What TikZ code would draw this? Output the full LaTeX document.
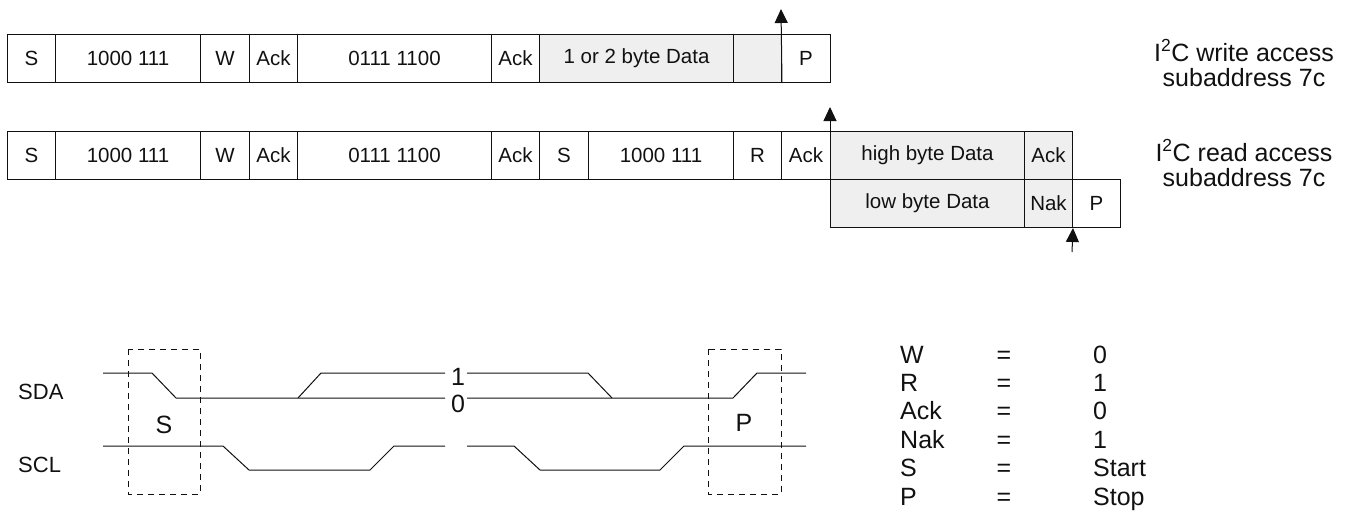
\documentclass[tikz,border=0pt]{standalone}
\usepackage{fontspec}
\setmainfont{Liberation Sans}
\usetikzlibrary{arrows.meta}
\definecolor{cellgray}{HTML}{EFEFEF}
\definecolor{ink}{HTML}{111111}
\newcommand\boxfont{\fontsize{20.5}{23}\selectfont}
\newcommand\bigfont{\fontsize{25}{25}\selectfont}
\newcommand\midfont{\fontsize{22}{24}\selectfont}
\begin{document}
\begin{tikzpicture}[x=1pt,y=-1pt,
  cell/.style={draw=ink, line width=1pt, minimum height=48pt, inner sep=0pt, anchor=north west, font=\boxfont, text=ink},
  gcell/.style={cell, fill=cellgray},
  arr/.style={draw=ink, line width=1pt, -{Triangle[length=14pt,width=13pt]}},
  sig/.style={draw=ink, line width=1pt},
  dbox/.style={draw=ink, line width=1pt, dash pattern=on 6pt off 5pt},
  lbl/.style={inner sep=0pt, text=ink}]
\useasboundingbox (0,0) rectangle (1356,515);

% Row 1: write access
\node[cell, minimum width=48pt]  (w1) at (7,34)   {S};
\node[cell, minimum width=145pt] (w2) at (55,34)  {1000 111};
\node[cell, minimum width=49pt]  (w3) at (200,34) {W};
\node[cell, minimum width=48pt]  (w4) at (249,34) {Ack};
\node[cell, minimum width=194pt] (w5) at (297,34) {0111 1100};
\node[cell, minimum width=48pt]  (w6) at (491,34) {Ack};
\node[gcell, minimum width=194pt] (w7) at (539,34) {1 or 2 byte Data};
\node[gcell, minimum width=48pt] (w8) at (733,34) {};
\node[cell, minimum width=49pt]  (w9) at (781,34) {P};
\coordinate (wtip) at (781,9);
\draw[arr] (w8.south east) -- (wtip);

% Row 2: read access
\node[cell, minimum width=48pt]  (r1) at (7,131)   {S};
\node[cell, minimum width=145pt] (r2) at (55,131)  {1000 111};
\node[cell, minimum width=49pt]  (r3) at (200,131) {W};
\node[cell, minimum width=48pt]  (r4) at (249,131) {Ack};
\node[cell, minimum width=194pt] (r5) at (297,131) {0111 1100};
\node[cell, minimum width=48pt]  (r6) at (491,131) {Ack};
\node[cell, minimum width=49pt]  (r7) at (539,131) {S};
\node[cell, minimum width=145pt] (r8) at (588,131) {1000 111};
\node[cell, minimum width=48pt]  (r9) at (733,131) {R};
\node[cell, minimum width=49pt]  (r10) at (781,131) {Ack};
\node[gcell, minimum width=194pt] (r11) at (830,131) {high byte Data};
\node[gcell, minimum width=48pt] (r12) at (1024,131) {Ack};
\node[gcell, minimum width=194pt] (l1) at (830,179) {low byte Data};
\node[gcell, minimum width=48pt] (l2) at (1024,179) {Nak};
\node[cell, minimum width=48pt]  (l3) at (1072,179) {P};
\coordinate (rtip) at (830,107);
\draw[arr] (l1.south west) -- (rtip);
\coordinate (ntail) at (1072,252);
\draw[arr] (ntail) -- (l2.south east);

% Right labels
\node[lbl, font=\bigfont, align=center] (wlab) at (1244,63) {I\textsuperscript{2}C write access\\subaddress 7c};
\node[lbl, font=\bigfont, align=center] (rlab) at (1244,163) {I\textsuperscript{2}C read access\\subaddress 7c};

% Timing diagram
\node[lbl, font=\midfont, anchor=west] (sda) at (18,392) {SDA};
\node[lbl, font=\midfont, anchor=west] (scl) at (18,465) {SCL};
\draw[sig] (103,373) -- (152,373) -- (176,398) -- (445,398);
\draw[sig] (467,398) -- (733,398) -- (757,373) -- (806,373);
\draw[sig] (298,398) -- (321,373) -- (445,373);
\draw[sig] (467,373) -- (588,373) -- (612,398);
\draw[sig] (103,446) -- (223,446) -- (249,470) -- (370,470) -- (394,446) -- (445,446);
\draw[sig] (467,446) -- (514,446) -- (540,470) -- (660,470) -- (684,446) -- (806,446);
\node[lbl, font=\bigfont] (one) at (458,377) {1};
\node[lbl, font=\bigfont] (zero) at (458,404) {0};
\draw[dbox] (128,349) rectangle (200,494);
\draw[dbox] (708,349) rectangle (781,494);
\node[lbl, font=\bigfont] (slab) at (164,425) {S};
\node[lbl, font=\bigfont] (plab) at (744,423) {P};

% Legend
\foreach \k/\v [count=\i from 0] in {W/0,R/1,Ack/0,Nak/1,S/Start,P/Stop} {
  \node[lbl, font=\bigfont, anchor=base west] (lk\i) at (900,363+28.4*\i) {\k};
  \node[lbl, font=\bigfont, anchor=base] (le\i) at (1004,363+28.4*\i) {=};
  \node[lbl, font=\bigfont, anchor=base west] (lv\i) at (1093,363+28.4*\i) {\v};
}
\end{tikzpicture}
\end{document}
